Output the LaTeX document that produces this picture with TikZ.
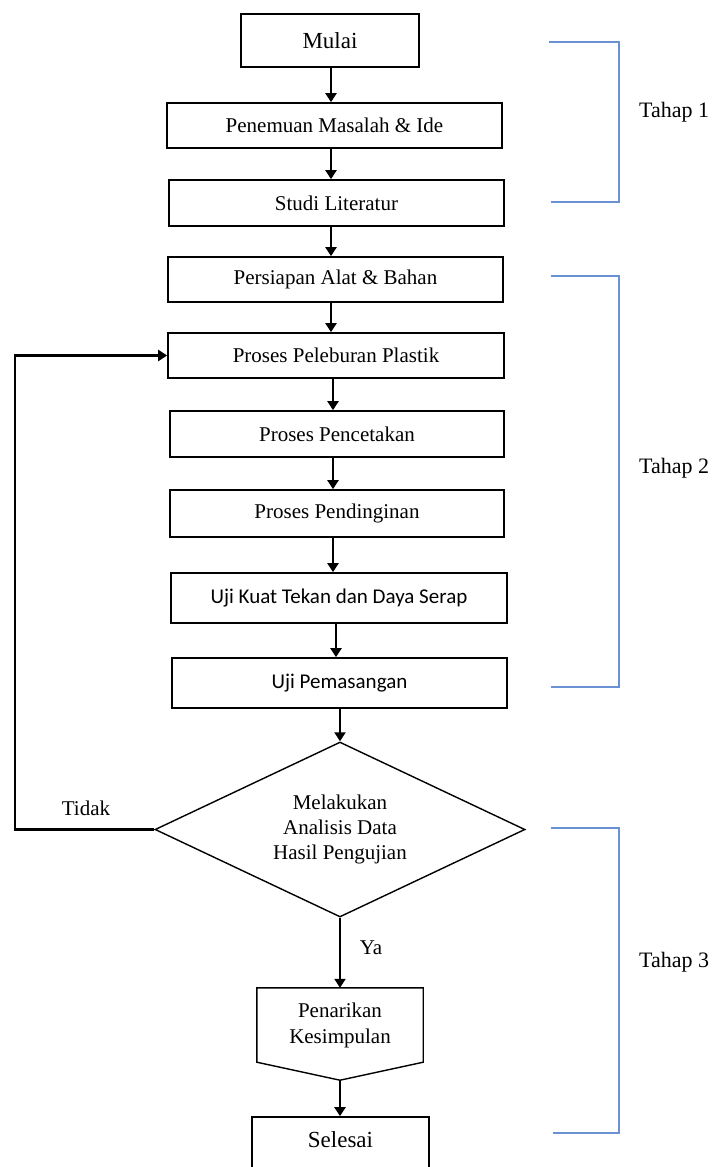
\documentclass[tikz,border=0pt]{standalone}
\usepackage{fontspec}
\setmainfont{Liberation Serif}
\newfontfamily\calibfont{Carlito}
\usetikzlibrary{shapes.geometric,arrows.meta,calc}
\definecolor{brk}{RGB}{105,145,212}
\begin{document}
\begin{tikzpicture}[x=1pt,y=-1pt,
  box/.style={draw, line width=1.7pt, inner sep=0pt, font=\fontsize{21}{25}\selectfont},
  bigbox/.style={box, font=\fontsize{23}{27}\selectfont},
  ujibox/.style={box, font=\calibfont\fontsize{21}{25}\selectfont},
  dec/.style={draw, diamond, aspect=2.1, line width=1.4pt, inner sep=0pt,
    minimum width=370pt, minimum height=175pt, align=center,
    font=\fontsize{21}{25}\selectfont},
  arr/.style={line width=2.2pt, -{Triangle[length=9pt,width=11pt]}},
  bracket/.style={draw=brk, line width=1.8pt},
  lbl/.style={inner sep=0pt, font=\fontsize{21}{25}\selectfont},
  tahap/.style={inner sep=0pt, anchor=west, font=\fontsize{22}{26}\selectfont}]
\useasboundingbox (0,0) rectangle (718,1167);
\clip (0,0) rectangle (718,1167);

% main column
\node[bigbox, minimum width=178pt, minimum height=53pt] (mulai) at (330,40.5) {Mulai};
\node[box, minimum width=335pt, minimum height=45pt] (penemuan) at (334.5,125.5) {Penemuan Masalah \& Ide};
\node[box, minimum width=335pt, minimum height=46pt] (studi) at (336.5,203) {Studi Literatur};
\node[box, minimum width=335pt, minimum height=45pt] (persiapan) at (335.5,279.5) {Persiapan Alat \& Bahan};
\node[box, minimum width=336pt, minimum height=45pt] (peleburan) at (336,355.5) {Proses Peleburan Plastik};
\node[box, minimum width=334pt, minimum height=46pt] (pencetakan) at (337,434) {Proses Pencetakan};
\node[box, minimum width=334pt, minimum height=47pt] (pendinginan) at (337,513.5) {Proses Pendinginan};
\node[ujibox, minimum width=336pt, minimum height=50pt] (ujikuat) at (339,598) {Uji Kuat Tekan dan Daya Serap};
\node[ujibox, minimum width=335pt, minimum height=50pt] (ujipasang) at (339.5,683) {Uji Pemasangan};
\node[dec] (analisis) at (340,829.5) {Melakukan\\Analisis Data\\Hasil Pengujian};
\node[inner sep=0pt, minimum width=166pt, minimum height=74pt, align=center,
  font=\fontsize{21}{26}\selectfont] (penarikan) at (340,1025) {Penarikan\\Kesimpulan};
\coordinate (pentip) at ($(penarikan.south)+(0,18)$);
\draw[line width=1.4pt] (penarikan.north west) -- (penarikan.north east) -- (penarikan.south east)
  -- (pentip) -- (penarikan.south west) -- cycle;
\node[bigbox, minimum width=177pt, minimum height=62pt, text depth=16pt] (selesai) at (340.5,1148) {Selesai};

% arrow columns
\coordinate (ca) at (331,0);
\coordinate (cb) at (333,0);
\coordinate (cc) at (336,0);
\coordinate (ce) at (340,0);

\draw[arr] (ca |- mulai.south) -- (ca |- penemuan.north);
\draw[arr] (ca |- penemuan.south) -- (ca |- studi.north);
\draw[arr] (ca |- studi.south) -- (ca |- persiapan.north);
\draw[arr] (ca |- persiapan.south) -- (ca |- peleburan.north);
\draw[arr] (cb |- peleburan.south) -- (cb |- pencetakan.north);
\draw[arr] (cb |- pencetakan.south) -- (cb |- pendinginan.north);
\draw[arr] (cb |- pendinginan.south) -- (cb |- ujikuat.north);
\draw[arr] (cc |- ujikuat.south) -- (cc |- ujipasang.north);
\draw[arr] (analisis.north |- ujipasang.south) -- (analisis.north);
\draw[arr] (analisis.south) -- (ce |- penarikan.north);
\draw[arr] (pentip) -- (ce |- selesai.north);

% loop back
\coordinate (loopx) at (15,0);
\draw[arr] (analisis.west) -- (loopx |- analisis.west) -- (loopx |- peleburan.west) -- (peleburan.west);

\node[lbl] (tidak) at (86,808) {Tidak};
\node[lbl] (ya) at (371,948) {Ya};

% stage brackets
\draw[bracket] (549,42) -- (619,42) -- (619,202) -- (551,202);
\draw[bracket] (551,276) -- (619,276) -- (619,687) -- (551,687);
\draw[bracket] (551,828) -- (619,828) -- (619,1133) -- (553,1133);
\node[tahap] (t1) at (639,112) {Tahap 1};
\node[tahap] (t2) at (639,468) {Tahap 2};
\node[tahap] (t3) at (639,962) {Tahap 3};
\end{tikzpicture}
\end{document}
